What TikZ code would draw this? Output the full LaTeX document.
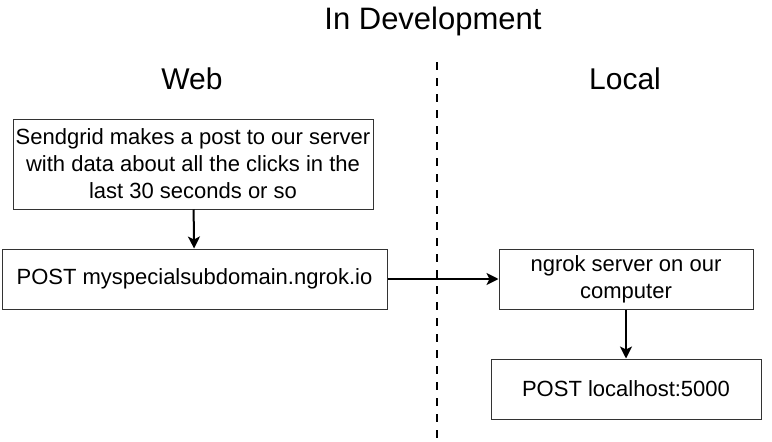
\documentclass[tikz,border=0pt]{standalone}
\usepackage{fontspec}
\setmainfont{Liberation Sans}
\usetikzlibrary{arrows.meta}
\newcommand{\boxfont}{\fontsize{22}{27}\selectfont}
\tikzset{
  box/.style={draw=black!80, line width=1pt, align=center, inner sep=0pt,
    font=\boxfont},
  flow/.style={line width=2pt, -{Stealth[length=12pt,width=12pt,inset=3pt]}},
  divider/.style={line width=2pt, dash pattern=on 8pt off 8pt}
}

\begin{document}
\begin{tikzpicture}[x=1pt,y=-1pt]
\useasboundingbox (0,0) rectangle (772,442);

% headings
\node(title) at (433,21){\fontsize{31}{36}\selectfont In Development};
\node(web) at (192,79){\fontsize{30}{35}\selectfont Web};
\node(local) at (625,79){\fontsize{30}{35}\selectfont Local};

% divider
\coordinate(divTop) at (437,62);
\coordinate(divBottom) at (437,442);
\draw[divider](divTop) -- (divBottom);

% web side
\node[box, minimum width=360pt, minimum height=90pt](sendgrid) at (193,164)
    {Sendgrid makes a post to our server\\with data about all the clicks in the\\last 30 seconds or so};
\node[box, minimum width=385pt, minimum height=60pt](ngrokpost) at (194.5,279)
    {POST myspecialsubdomain.ngrok.io};

% local side
\node[box, minimum width=254pt, minimum height=60pt](ngrokserver) at (626,279)
    {ngrok server on our\\computer};
\node[box, minimum width=270pt, minimum height=60pt](localpost) at (626,389)
    {POST localhost:5000};

% arrows
\draw[flow](sendgrid) -- (ngrokpost);
\draw[flow](ngrokpost) -- (ngrokserver);
\draw[flow](ngrokserver) -- (localpost);

\end{tikzpicture}
\end{document}
